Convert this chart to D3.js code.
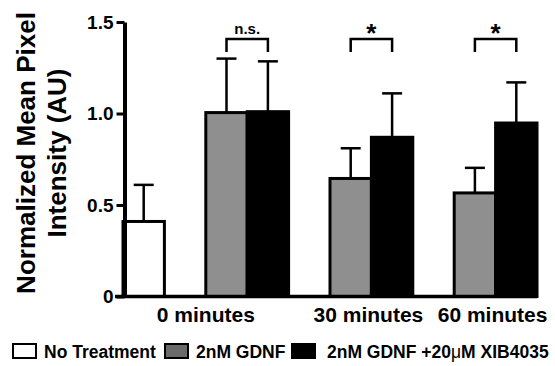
<!DOCTYPE html>
<html>
<head>
<meta charset="utf-8">
<script src="https://cdn.jsdelivr.net/npm/d3@7"></script>
<style>
  body { margin: 0; background: #fff; }
  svg { display: block; font-family: "Liberation Sans", Arial, sans-serif; font-weight: bold; }
</style>
</head>
<body>
<script>
// data
var timeLabels = ["0 minutes", "30 minutes", "60 minutes"]
var seriesNames = ["No Treatment", "2nM GDNF", "2nM GDNF +20\u03bcM XIB4035"]
var noTreatMean = [0.41, null, null]
var noTreatSem = [0.20, null, null]
var gdnfMean = [1.005, 0.645, 0.566]
var gdnfSem = [0.295, 0.165, 0.137]
var xibMean = [1.01, 0.87, 0.948]
var xibSem = [0.275, 0.24, 0.222]
var sigLabels = ["n.s.", "*", "*"]
var yTicks = [0, 0.5, 1.0, 1.5]

var fills = ["#ffffff", "#8f8f8f", "#000000"]

var screen = {width: 555, height: 366}
var margin = {top: 22, right: 18, bottom: 69.5, left: 123}

var svg = d3.select("body").append("svg")
  .attr("width", screen.width)
  .attr("height", screen.height)

// build the slots: a gap column sits before every pair of treated bars
var slots = []
var bars = []
timeLabels.forEach(function(t, i) {
  if (noTreatMean[i] != null) {
    slots.push(t + "|0")
    bars.push({time: t, s: 0, mean: noTreatMean[i], sem: noTreatSem[i], key: t + "|0"})
  }
  slots.push(t + "|gap")
  slots.push(t + "|1")
  slots.push(t + "|2")
  bars.push({time: t, s: 1, mean: gdnfMean[i], sem: gdnfSem[i], key: t + "|1"})
  bars.push({time: t, s: 2, mean: xibMean[i], sem: xibSem[i], key: t + "|2"})
})
// the first time point has its gap after the untreated bar
slots.splice(0, 2, timeLabels[0] + "|0", timeLabels[0] + "|gap")

var x = d3.scaleBand()
  .domain(slots)
  .range([margin.left, screen.width - margin.right])
  .padding(0)
var bw = x.bandwidth()

var y = d3.scaleLinear()
  .domain([0, 1.5])
  .range([screen.height - margin.bottom, margin.top])

// bars
svg.append("g").selectAll("rect")
  .data(bars)
  .enter()
  .append("rect")
  .attr("x", function(d) { return x(d.key) })
  .attr("width", bw)
  .attr("y", function(d) { return y(d.mean) })
  .attr("height", function(d) { return y(0) - y(d.mean) })
  .attr("fill", function(d) { return fills[d.s] })
  .attr("stroke", "#000")
  .attr("stroke-width", 3)

// error bars (upper only)
var eb = svg.append("g").attr("stroke", "#000").attr("stroke-width", 2.5)
bars.forEach(function(d) {
  var cx = x(d.key) + bw / 2
  eb.append("line")
    .attr("x1", cx).attr("x2", cx)
    .attr("y1", y(d.mean)).attr("y2", y(d.mean + d.sem))
  eb.append("line")
    .attr("x1", cx - 10).attr("x2", cx + 10)
    .attr("y1", y(d.mean + d.sem)).attr("y2", y(d.mean + d.sem))
})

// significance brackets
var br = svg.append("g")
timeLabels.forEach(function(t, i) {
  var x1 = x(t + "|1") + bw / 2
  var x2 = x(t + "|2") + bw / 2
  var top = 39
  br.append("path")
    .attr("d", "M" + x1 + "," + (top + 13) + "V" + top + "H" + x2 + "V" + (top + 13))
    .attr("fill", "none")
    .attr("stroke", "#000")
    .attr("stroke-width", 2.5)
  br.append("text")
    .attr("x", (x1 + x2) / 2)
    .attr("y", sigLabels[i] == "*" ? 42 : 34)
    .attr("text-anchor", "middle")
    .attr("font-size", sigLabels[i] == "*" ? 26 : 15)
    .text(sigLabels[i])
})

// y axis
var yAxis = d3.axisLeft(y)
  .tickValues(yTicks)
  .tickFormat(function(d) { return d == 0 ? "0" : d3.format(".1f")(d) })
  .tickSize(8)
  .tickSizeOuter(0)
  .tickPadding(3)
var ya = svg.append("g")
  .attr("transform", "translate(" + (margin.left + 1.5) + ",0)")
  .call(yAxis)
ya.select(".domain").attr("stroke-width", 4)
ya.selectAll(".tick line").attr("stroke-width", 3)
ya.selectAll(".tick text")
  .attr("font-size", 19)
  .attr("font-family", "Liberation Sans, Arial, sans-serif")
  .attr("font-weight", "bold")
  .attr("fill", "#000")

// x baseline
svg.append("line")
  .attr("x1", margin.left - 8).attr("x2", screen.width - margin.right)
  .attr("y1", y(0)).attr("y2", y(0))
  .attr("stroke", "#000")
  .attr("stroke-width", 3.5)

// x labels, centred on each group's bars
timeLabels.forEach(function(t, i) {
  var first = noTreatMean[i] != null ? x(t + "|0") : x(t + "|1")
  var last = x(t + "|2") + bw
  svg.append("text")
    .attr("x", (first + last) / 2 - (i > 0 ? 3 : 0))
    .attr("y", 322)
    .attr("text-anchor", "middle")
    .attr("font-size", 21)
    .text(t)
})

// y title
var yt = svg.append("text")
  .attr("transform", "translate(0,153) rotate(-90)")
  .attr("text-anchor", "middle")
  .attr("font-size", 26)
yt.append("tspan").attr("x", 0).attr("y", 35).text("Normalized Mean Pixel")
yt.append("tspan").attr("x", 0).attr("y", 66).text("Intensity (AU)")

// legend
var legendX = [13, 165, 292]
var lg = svg.append("g")
seriesNames.forEach(function(n, i) {
  lg.append("rect")
    .attr("x", legendX[i]).attr("y", 344)
    .attr("width", 23).attr("height", 14)
    .attr("fill", i == 1 ? "#6a6a6a" : fills[i])
    .attr("stroke", "#000")
    .attr("stroke-width", 2)
  var tx = lg.append("text")
    .attr("x", legendX[i] + (i == 2 ? 35 : 31))
    .attr("y", 358)
    .attr("font-size", 17.5)
  if (i == 2) {
    tx.append("tspan").text("2nM GDNF +20")
    tx.append("tspan").attr("font-weight", "normal").text("\u03bc")
    tx.append("tspan").text("M XIB4035")
  } else {
    tx.text(n)
  }
})
</script>
</body>
</html>
